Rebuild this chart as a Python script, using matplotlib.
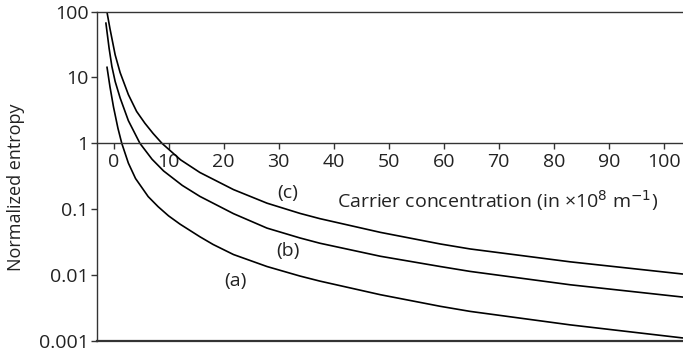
import matplotlib
matplotlib.use("Agg")
import matplotlib.pyplot as plt

# Curve (a)
xa = [-1.2, -0.64, 0.0, 0.8, 1.5, 2.7, 4.0, 6.3, 8.1, 10.0, 12.1, 15.7, 18.1, 21.8, 27.9, 33.9, 37.5, 48.5, 59.4, 64.8, 83.0, 103.5]
ya = [14.7, 7.2, 3.56, 1.70, 1.0, 0.50, 0.292, 0.155, 0.109, 0.079, 0.059, 0.038, 0.029, 0.0204, 0.0134, 0.0096, 0.00805, 0.0050, 0.00333, 0.00279, 0.00174, 0.0011]
# Curve (b)
xb = [-1.4, -0.8, -0.3, 0.3, 1.2, 2.7, 4.8, 7.0, 9.1, 12.5, 15.7, 21.8, 27.9, 33.9, 37.5, 48.5, 59.4, 64.8, 83.0, 103.5]
yb = [69, 27.8, 14.8, 8.7, 4.9, 2.21, 1.0, 0.573, 0.38, 0.229, 0.156, 0.0853, 0.0514, 0.0364, 0.0303, 0.0192, 0.0134, 0.0113, 0.00708, 0.0046]
# Curve (c)
xc = [-1.2, -0.64, 0.3, 1.2, 2.7, 4.2, 5.7, 7.2, 8.8, 12.2, 15.7, 21.8, 27.9, 33.9, 37.5, 48.5, 59.4, 64.8, 83.0, 103.5]
yc = [100, 55, 22.1, 11.9, 5.5, 3.05, 2.02, 1.41, 1.0, 0.56, 0.36, 0.198, 0.123, 0.086, 0.0716, 0.0443, 0.0295, 0.0248, 0.0158, 0.0103]

xticks = [0, 10, 20, 30, 40, 50, 60, 70, 80, 90, 100]
yticks = [0.001, 0.01, 0.1, 1, 10, 100]
ytick_labels = ["0.001", "0.01", "0.1", "1", "10", "100"]

plt.rcParams['font.family'] = ['Open Sans', 'DejaVu Sans']
txt = '#222222'
axc = '#333333'
fs = 14

fig = plt.figure(figsize=(6.83, 3.51), dpi=100)
ax = fig.add_axes([97/683, (351-340.7)/351, (683-97)/683, (340.7-11.7)/351])
ax.set_yscale('log')
ax.set_xlim(-3.0, 103.5)
ax.set_ylim(0.001, 100)

for x, y in [(xa, ya), (xb, yb), (xc, yc)]:
    ax.plot(x, y, color='black', lw=1.2, solid_capstyle='butt', solid_joinstyle='round')

ax.spines['right'].set_visible(False)
ax.spines['bottom'].set_position(('data', 1))
for s in ['left', 'bottom', 'top']:
    ax.spines[s].set_color(axc)
    ax.spines[s].set_linewidth(1.0)
ax.axhline(0.001, color=axc, lw=1.6, clip_on=False)

ax.set_xticks(xticks)
ax.set_xticklabels([str(v) for v in xticks])
ax.set_yticks(yticks)
ax.set_yticklabels(ytick_labels)
ax.minorticks_off()
ax.tick_params(axis='both', direction='out', length=4, width=1.0, color=axc,
               labelsize=fs, labelcolor=txt, pad=2)
ax.tick_params(axis='x', pad=3)

ax.text(40.6, 0.133, "Carrier concentration (in \u00d710$^{8}$ m$^{-1}$)",
        fontsize=fs, color=txt, ha='left', va='center')
ax.text(31.6, 0.174, "(c)", fontsize=fs, color=txt, ha='center', va='center')
ax.text(31.7, 0.0231, "(b)", fontsize=fs, color=txt, ha='center', va='center')
ax.text(22.1, 0.0081, "(a)", fontsize=fs, color=txt, ha='center', va='center')

fig.text(16/683, 1-187/351, "Normalized entropy", rotation=90, fontsize=13,
         color=txt, ha='center', va='center')

fig.savefig('out.png', dpi=100)
